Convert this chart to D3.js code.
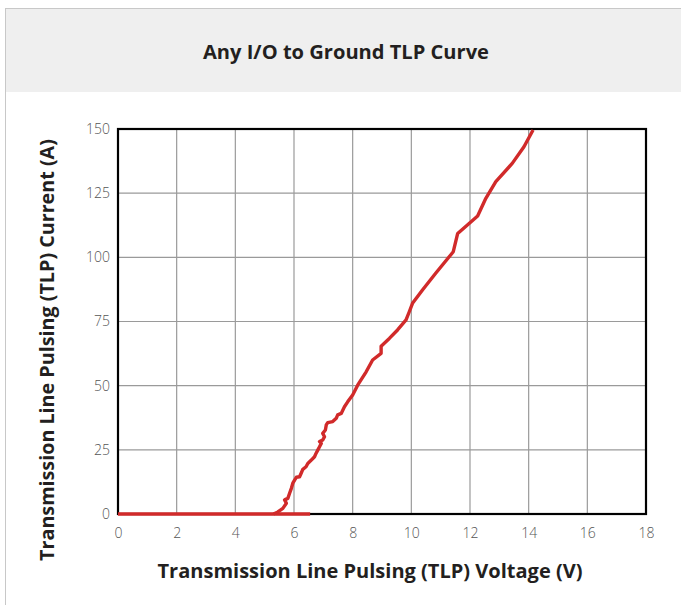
<!DOCTYPE html>
<html><head><meta charset="utf-8">
<script src="https://cdn.jsdelivr.net/npm/d3@7"></script>
<style>body{margin:0;background:#fff;}svg{display:block;}</style>
</head><body>
<svg id="c" width="681" height="605"></svg>
<script>
const title = "Any I/O to Ground TLP Curve";
const xLabel = "Transmission Line Pulsing (TLP) Voltage (V)";
const yLabel = "Transmission Line Pulsing (TLP) Current (A)";
const xTicks = [0,2,4,6,8,10,12,14,16,18];
const yTicks = [0,25,50,75,100,125,150];
const baseV = [0, 6.55];
const baseI = [0, 0];
const curveV = [5.30,5.45,5.62,5.74,5.68,5.79,5.85,5.91,5.96,6.02,6.08,6.19,6.24,6.30,6.41,6.47,6.59,6.70,6.75,6.81,6.87,6.93,6.87,6.98,7.04,6.98,7.07,7.10,7.15,7.32,7.44,7.49,7.61,7.72,7.83,8.00,8.17,8.46,8.68,8.97,8.97,9.25,9.53,9.82,9.93,10.04,10.38,10.83,11.34,11.43,11.58,11.97,12.26,12.54,12.88,13.44,13.84,14.15];
const curveI = [0,0.8,2.2,4.2,5.5,6.1,8.1,10,12,13.2,14.3,14.5,15.8,17.4,18.4,19.7,21,22.3,23.6,24.9,26.2,27.5,28.2,28.8,30.1,31.4,32.7,34.7,35.6,36,37.3,38.6,39.2,41.8,43.7,46.4,50.2,55.4,60,62.6,65.4,68.4,71.7,75.6,78.8,82.1,87.3,93.8,100.9,102.2,109.3,113.2,116.1,123,129.5,136.6,143.1,149.6];

(function(){
const svg = d3.select("#c");
const W = 681, H = 605;
const pL = 118, pR = 646, pT = 129, pB = 514;
const x = d3.scaleLinear().domain([0,18]).range([pL,pR]);
const y = d3.scaleLinear().domain([0,150]).range([pB,pT]);

svg.append("rect").attr("x",5.5).attr("y",8.5).attr("width",W).attr("height",H).attr("fill","#fff").attr("stroke","#c8c8c8").attr("stroke-width",1);
svg.append("rect").attr("x",6).attr("y",9).attr("width",W-6).attr("height",83).attr("fill","#efefef");

function fit(sel, target){
  const n = sel.node(); let fs = parseFloat(sel.attr("font-size"));
  for(let i=0;i<3;i++){ const w = n.getComputedTextLength(); fs = fs*target/w; sel.attr("font-size",fs); }
}
const font = "'Open Sans', 'Noto Sans', sans-serif";
const t = svg.append("text").attr("x",346).attr("y",59).attr("text-anchor","middle").attr("font-family",font).attr("font-weight","bold").attr("font-size",17).attr("fill","#231f20").text(title);
fit(t, 286);

const g = svg.append("g");
g.selectAll(".gx").data(xTicks.slice(1,-1)).join("line").attr("x1",d=>x(d)).attr("x2",d=>x(d)).attr("y1",pT).attr("y2",pB).attr("stroke","#9a9a9a").attr("stroke-width",1.2);
g.selectAll(".gy").data(yTicks.slice(1,-1)).join("line").attr("x1",pL).attr("x2",pR).attr("y1",d=>y(d)).attr("y2",d=>y(d)).attr("stroke","#9a9a9a").attr("stroke-width",1.2);

svg.append("rect").attr("x",pL).attr("y",pT).attr("width",pR-pL).attr("height",pB-pT).attr("fill","none").attr("stroke","#000").attr("stroke-width",2.2);

const xAxis = d3.axisBottom(x).tickValues(xTicks).tickSize(0).tickPadding(14).tickFormat(d3.format("d"));
const ax = svg.append("g").attr("transform",`translate(0,${pB})`).call(xAxis);
ax.select(".domain").remove();
ax.selectAll("text").attr("font-family",font).attr("font-size",14).attr("fill","#555").attr("font-weight","300");
const yAxis = d3.axisLeft(y).tickValues(yTicks).tickSize(0).tickPadding(8).tickFormat(d3.format("d"));
const ay = svg.append("g").attr("transform",`translate(${pL},0)`).call(yAxis);
ay.select(".domain").remove();
ay.selectAll("text").attr("font-family",font).attr("font-size",14).attr("fill","#555").attr("font-weight","300");

const xt = svg.append("text").attr("x",370).attr("y",578).attr("text-anchor","middle").attr("font-family",font).attr("font-weight","bold").attr("font-size",17).attr("fill","#231f20").text(xLabel);
fit(xt, 425);
const yt = svg.append("text").attr("transform","translate(54,350) rotate(-90)").attr("text-anchor","middle").attr("font-family",font).attr("font-weight","bold").attr("font-size",17).attr("fill","#231f20").text(yLabel);
fit(yt, 422);

const line = d3.line().x(d=>x(d[0])).y(d=>y(d[1]));
svg.append("path").datum(d3.zip(baseV,baseI)).attr("d",line).attr("fill","none").attr("stroke","#d12a2a").attr("stroke-width",3.4);
svg.append("path").datum(d3.zip(curveV,curveI)).attr("d",line).attr("fill","none").attr("stroke","#d12a2a").attr("stroke-width",3.4).attr("stroke-linejoin","round");
})();
</script>
</body></html>
